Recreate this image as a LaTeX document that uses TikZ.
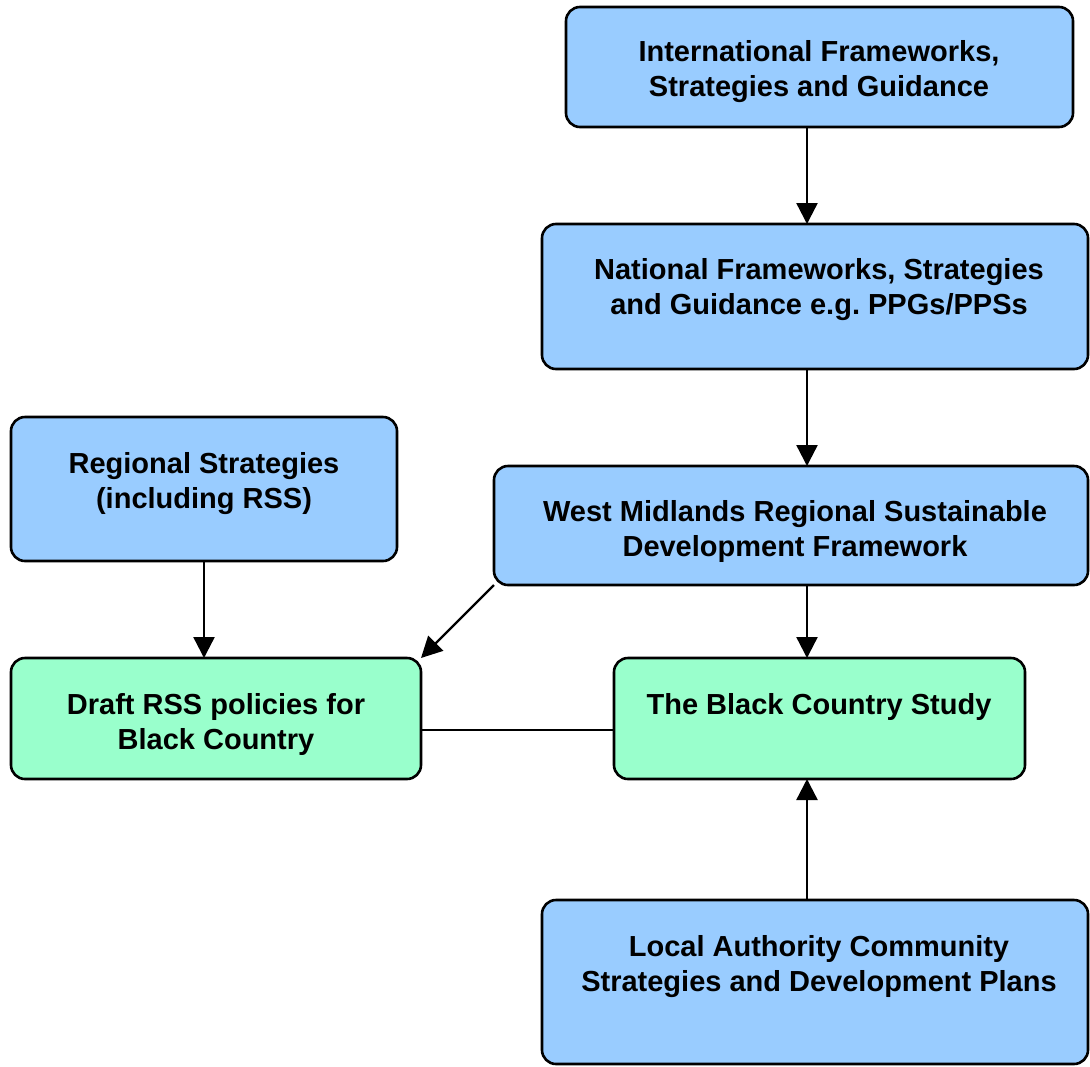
\documentclass[tikz,border=0pt]{standalone}
\usepackage{fontspec}
\setmainfont{Liberation Sans}
\usetikzlibrary{arrows.meta}
\definecolor{boxblue}{HTML}{99CCFF}
\definecolor{boxgreen}{HTML}{99FFCC}
\begin{document}
\frenchspacing
\begin{tikzpicture}[x=1pt,y=-1pt,
  box/.style={draw=black, line width=2.6pt, rounded corners=14pt, inner sep=0pt, outer sep=0pt},
  bluebox/.style={box, fill=boxblue},
  greenbox/.style={box, fill=boxgreen},
  lbl/.style={font=\fontsize{29}{35}\selectfont\bfseries, align=center, inner sep=0pt},
  arr/.style={line width=2.4pt, -{Triangle[length=21pt,width=21pt]}},
  con/.style={line width=2.4pt}]
\useasboundingbox (0,0) rectangle (1090,1066);
\fill[white] (0,0) rectangle (1090,1066);
\coordinate (colx) at (807,0);
\coordinate (liney) at (0,730);
% boxes
\node[bluebox, minimum width=507pt, minimum height=120pt] (ifs) at (819.5,67) {};
\node[bluebox, minimum width=546pt, minimum height=145pt] (nfs) at (815,296.5) {};
\node[bluebox, minimum width=594pt, minimum height=119pt] (wmr) at (791,525.5) {};
\node[bluebox, minimum width=386pt, minimum height=144pt] (rs) at (204,489) {};
\node[greenbox, minimum width=410pt, minimum height=121pt] (draft) at (216,718.5) {};
\node[greenbox, minimum width=411pt, minimum height=121pt] (bcs) at (819.5,718.5) {};
\node[bluebox, minimum width=546pt, minimum height=164pt] (la) at (815,982) {};
% labels
\node[lbl] (ifsT) at (819,72) {International Frameworks,\\Strategies and Guidance};
\node[lbl] (nfsT) at (819,290) {National Frameworks, Strategies\\and Guidance e.g. PPGs/PPSs};
\node[lbl] (wmrT) at (795,531) {West Midlands Regional Sustainable\\Development Framework};
\node[lbl] (rsT) at (204,484) {Regional Strategies\\(including RSS)};
\node[lbl] (draftT) at (216,724) {Draft RSS policies for\\Black Country};
\node[lbl] (bcsT) at (819,706.5) {The Black Country Study};
\node[lbl] (laT) at (819,967) {Local Authority Community\\Strategies and Development Plans};
% connectors
\draw[arr] (ifs.south -| colx) -- (nfs.north -| colx);
\draw[arr] (nfs.south -| colx) -- (wmr.north -| colx);
\draw[arr] (wmr.south -| colx) -- (bcs.north -| colx);
\draw[arr] (rs.south) -- (rs.south |- draft.north);
\draw[arr] (wmr.south west) -- (draft.north east);
\draw[con] (draft.east |- liney) -- (bcs.west |- liney);
\draw[arr] (la.north -| colx) -- (bcs.south -| colx);
\end{tikzpicture}
\end{document}
